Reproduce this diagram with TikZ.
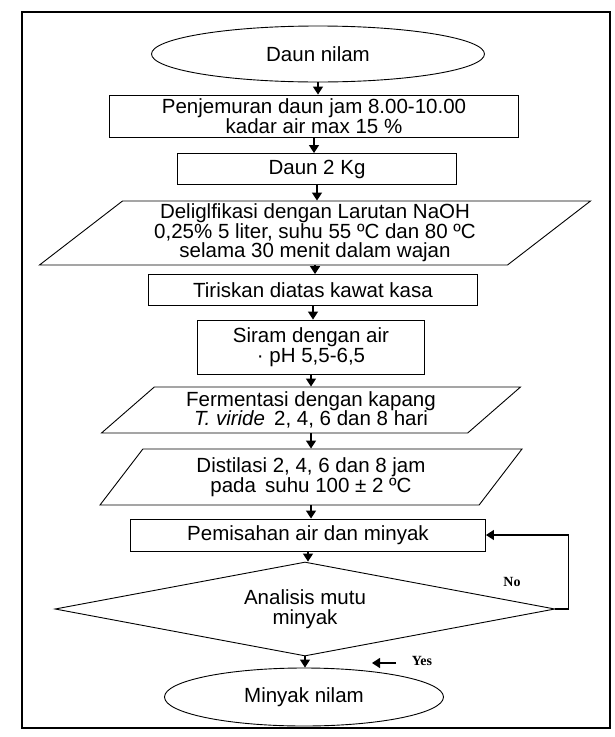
\documentclass[tikz,border=0pt]{standalone}
\usepackage{fontspec}
\setmainfont{Liberation Sans}
\newfontfamily\labelfont{Liberation Serif}
\usetikzlibrary{shapes.geometric, arrows.meta}

\begin{document}
\begin{tikzpicture}[x=1pt, y=-1pt, >={Triangle[length=8pt, width=10pt]}, line width=0.9pt,
  every node/.style={font=\fontsize{20.5}{19.5}\selectfont, align=center},
  terminal/.style={draw, ellipse, inner sep=0pt},
  process/.style={draw, rectangle, inner sep=0pt},
  data/.style={draw, trapezium, trapezium stretches body, inner sep=0pt},
  decision/.style={draw, diamond, aspect=5.4, inner sep=0pt},
  answer/.style={font=\labelfont\bfseries\fontsize{14}{16}\selectfont},
  flow/.style={->, line width=1.3pt}]

\useasboundingbox (0,0) rectangle (615,737);

% Frame
\draw[line width=1.6pt] (22,12) rectangle (610,728);

% Steps
\node[terminal, minimum width=333, minimum height=56] (daun) at (318,54) {Daun nilam};
\node[process, minimum width=409, minimum height=42] (jemur) at (314,116)
  {Penjemuran daun jam 8.00-10.00\\kadar air max 15 \%};
\node[process, minimum width=279, minimum height=31] (daun2) at (317,169) {Daun 2 Kg};
\node[data, trapezium left angle=35, trapezium right angle=145,
  minimum width=551, minimum height=64] (delig) at (315,233)
  {Deliglfikasi dengan Larutan NaOH\\0,25\% 5 liter, suhu 55 ºC dan 80 ºC\\selama 30 menit dalam wajan};
\node[process, minimum width=329, minimum height=31] (tiris) at (313,290) {Tiriskan diatas kawat kasa};
\node[process, minimum width=227, minimum height=54] (siram) at (311,347)
  {Siram dengan air\\· pH 5,5-6,5};
\node[data, trapezium left angle=35, trapezium right angle=145,
  minimum width=419, minimum height=46] (ferm) at (311,410)
  {Fermentasi dengan kapang\\\textit{T. viride}\, 2, 4, 6 dan 8 hari};
\node[data, trapezium left angle=42, trapezium right angle=138,
  minimum width=422, minimum height=56] (distil) at (311,477)
  {Distilasi 2, 4, 6 dan 8 jam\\pada\, suhu 100 ± 2 ºC};
\node[process, minimum width=355, minimum height=32] (pisah) at (308,535) {Pemisahan air dan minyak};
\node[decision, minimum width=500, minimum height=94] (mutu) at (305,609) {Analisis mutu\\minyak};
\node[terminal, minimum width=279, minimum height=58] (minyak) at (304,697) {Minyak nilam};

% Connectors
\foreach \a/\b in {daun/jemur, jemur/daun2, daun2/delig, delig/tiris, tiris/siram,
  siram/ferm, ferm/distil, distil/pisah, pisah/mutu, mutu/minyak}
  \draw[flow] (\a.south) -- (\a.south |- \b.north);

% No loop
\node[answer] (no) at (512,582) {No};
\draw[flow] (mutu.east) -- ++(13,0) |- (pisah.east);

% Yes
\node[answer] (yes) at (422,661) {Yes};
\coordinate (yestail) at (396,663);
\coordinate (yestip) at (372,663);
\draw[flow] (yestail) -- (yestip);

\end{tikzpicture}
\end{document}
